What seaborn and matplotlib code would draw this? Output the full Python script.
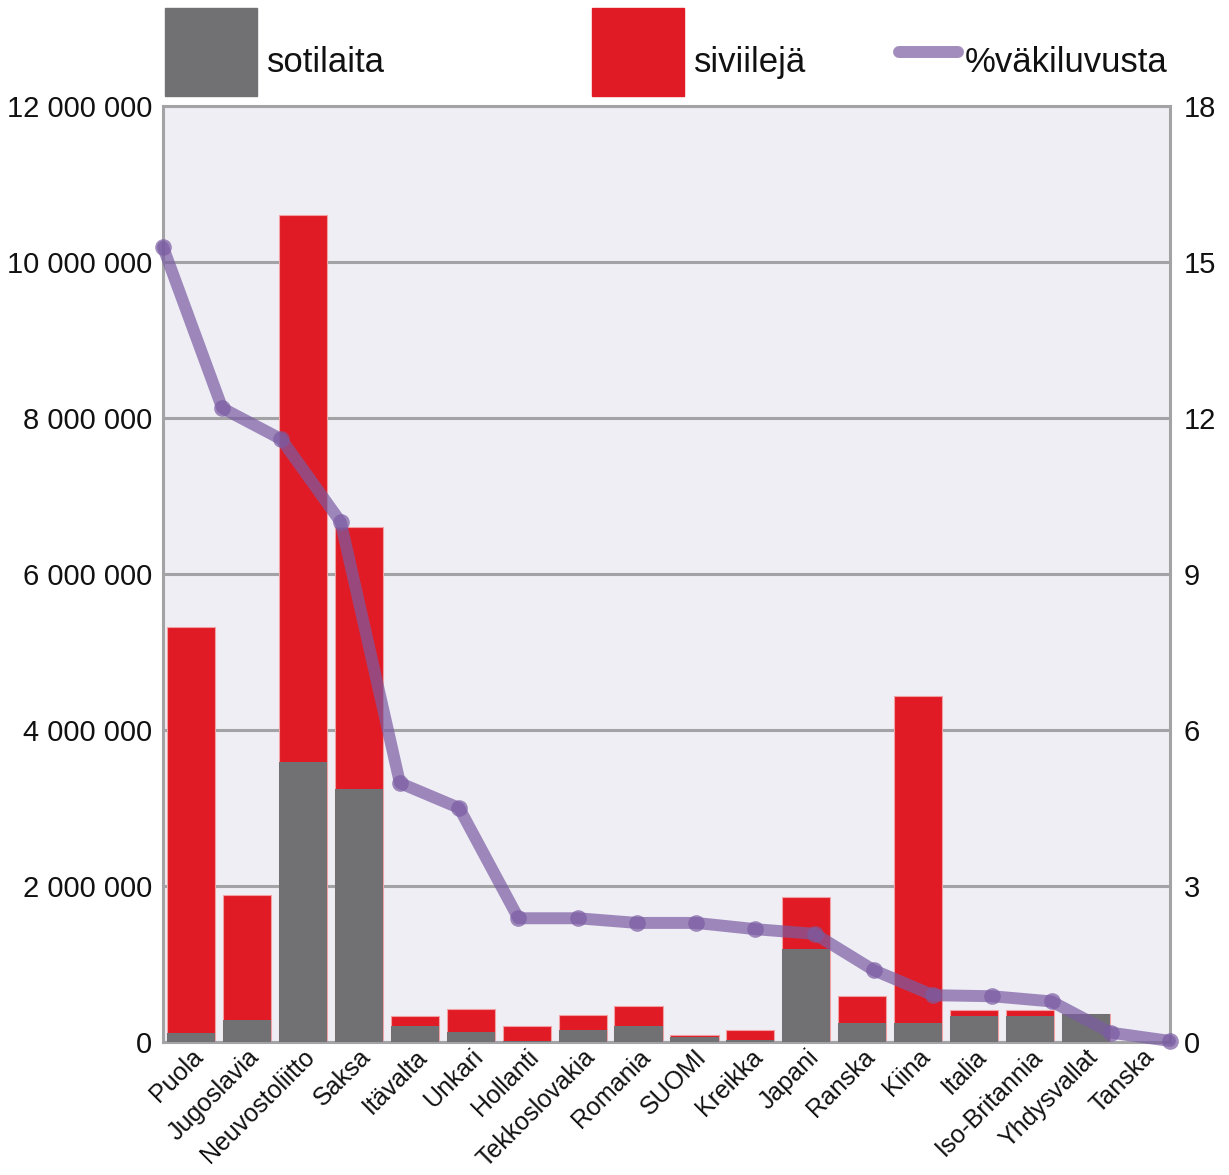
import numpy as np
import pandas as pd
import matplotlib.pyplot as plt
import seaborn as sns
from matplotlib.ticker import FuncFormatter
from matplotlib.patches import Patch, Rectangle
from matplotlib.lines import Line2D
from matplotlib.legend_handler import HandlerPatch

sns.set_style('white')
plt.rcParams['font.family'] = ['Liberation Sans', 'DejaVu Sans']

#%% data (luvut luettu kuvasta, miljoonina)
maat = ['Puola', 'Jugoslavia', 'Neuvostoliitto', 'Saksa', 'Itävalta', 'Unkari',
        'Hollanti', 'Tekkoslovakia', 'Romania', 'SUOMI', 'Kreikka', 'Japani',
        'Ranska', 'Kiina', 'Italia', 'Iso-Britannia', 'Yhdysvallat', 'Tanska']
sotilaat = [0.11, 0.28, 3.59, 3.25, 0.21, 0.13, 0.01, 0.15, 0.20, 0.07, 0.02, 1.19,
            0.24, 0.24, 0.33, 0.33, 0.36, 0.003]
siviilit = [5.21, 1.60, 7.01, 3.35, 0.12, 0.29, 0.19, 0.20, 0.26, 0.02, 0.135, 0.67,
            0.35, 4.20, 0.08, 0.08, 0.0, 0.002]
prosentti = [15.29, 12.19, 11.59, 10.0, 4.98, 4.5, 2.38, 2.38, 2.29, 2.29, 2.17, 2.08,
             1.38, 0.9, 0.88, 0.78, 0.18, 0.02]

df = pd.DataFrame({'maa': maat,
                   'sotilaat': np.array(sotilaat) * 1e6,
                   'siviilit': np.array(siviilit) * 1e6,
                   'prosentti': prosentti})
df['yhteensa'] = df['sotilaat'] + df['siviilit']

harmaa = '#717173'
punainen = '#e11b25'
violetti = '#7a5ca2'
tausta = '#efeef5'
viiva = '#a3a3a6'
teksti = '#111111'

#%%
fig = plt.figure(figsize=(12.29, 11.75), dpi=100)
ax = fig.add_axes([163/1229, 1 - 1042/1175, 1007/1229, 936/1175])
ax.set_facecolor(tausta)

# pinotut pylväät: ensin kokonaismäärä punaisena, päälle sotilaat harmaana
sns.barplot(data=df, x='maa', y='yhteensa', color=punainen, width=0.86,
            saturation=1, edgecolor='#f2a0a4', linewidth=0.8, ax=ax, zorder=2)
sns.barplot(data=df, x='maa', y='sotilaat', color=harmaa, width=0.86,
            saturation=1, linewidth=0, ax=ax, zorder=3)

ax.set_ylim(0, 12e6)
ax.set_xlim(-0.5, len(maat) - 0.5)
ax.set_yticks(np.arange(0, 12e6 + 1, 2e6))
ax.yaxis.set_major_formatter(FuncFormatter(lambda v, p: f'{int(v):,}'.replace(',', ' ')))
ax.grid(axis='y', color=viiva, linewidth=2.2, zorder=1)
ax.set_axisbelow(True)
ax.set_xlabel('')
ax.set_ylabel('')
for s in ax.spines.values():
    s.set_color(viiva)
    s.set_linewidth(2.2)
ax.tick_params(axis='y', length=0, labelsize=21, labelcolor=teksti, pad=8)
ax.tick_params(axis='x', length=0, labelsize=18, labelcolor=teksti, pad=2)
for lab in ax.get_xticklabels():
    lab.set_rotation(45)
    lab.set_ha('right')
    lab.set_va('top')
    lab.set_rotation_mode('anchor')

#%% prosenttiviiva omalla akselillaan (pisteet reunasta reunaan)
ax2 = fig.add_axes(ax.get_position())
ax2.patch.set_visible(False)
for s in ax2.spines.values():
    s.set_visible(False)
sns.lineplot(x=np.arange(len(maat)), y=df['prosentti'], ax=ax2, color=violetti,
             alpha=0.7, linewidth=8.6, marker='o', markersize=12, markeredgewidth=0,
             solid_capstyle='round', solid_joinstyle='round', clip_on=False, zorder=5)
ax2.set_xlim(0, len(maat) - 1)
ax2.set_ylim(0, 18)
ax2.set_xticks([])
ax2.set_yticks(np.arange(0, 19, 3))
ax2.yaxis.tick_right()
ax2.tick_params(axis='y', length=0, labelsize=21, pad=10, labelcolor=teksti)
ax2.set_xlabel('')
ax2.set_ylabel('')

#%% selite
# kahvat nostetaan hieman tekstin perusviivan yläpuolelle
nosto = 7.2

def laatikko(legend, orig_handle, xdescent, ydescent, width, height, fontsize):
    return Rectangle((-xdescent, -ydescent + nosto), width, height)

def viivakahva(legend, orig_handle, xdescent, ydescent, width, height, fontsize):
    y = height / 2 - ydescent + nosto
    return Line2D([-xdescent, width - xdescent], [y, y])

kahva = dict(loc='upper left', frameon=False, borderpad=0, borderaxespad=0,
             fontsize=25, handleheight=3.52, labelcolor=teksti)
ylä = 1 - 18/1175
fig.legend(handles=[Patch(color=harmaa)], labels=['sotilaita'], handlelength=2.65,
           handletextpad=0.3, bbox_to_anchor=(165/1229, ylä),
           handler_map={Patch: HandlerPatch(patch_func=laatikko)}, **kahva)
fig.legend(handles=[Patch(color=punainen)], labels=['siviilejä'], handlelength=2.65,
           handletextpad=0.3, bbox_to_anchor=(592/1229, ylä),
           handler_map={Patch: HandlerPatch(patch_func=laatikko)}, **kahva)
fig.legend(handles=[Line2D([], [], color=violetti, alpha=0.7, linewidth=8.6,
                           solid_capstyle='round')],
           labels=['%väkiluvusta'], handlelength=1.7, handletextpad=0.18,
           bbox_to_anchor=(899/1229, ylä),
           handler_map={Line2D: HandlerPatch(patch_func=viivakahva)}, **kahva)

plt.savefig('out.png', dpi=100)
